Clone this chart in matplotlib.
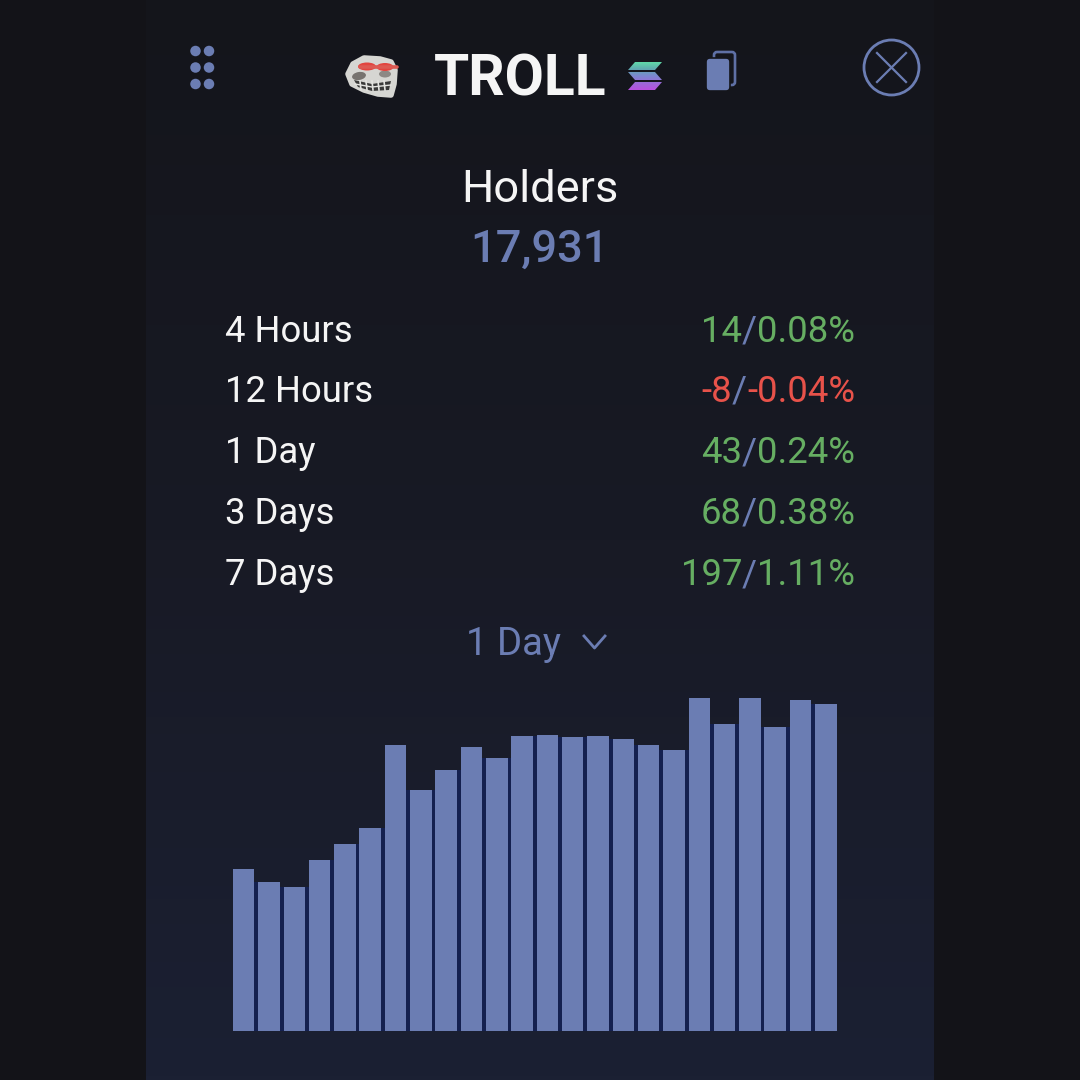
import numpy as np
import matplotlib
matplotlib.use("Agg")
import matplotlib.pyplot as plt
from matplotlib.patches import Ellipse, Polygon, FancyBboxPatch, PathPatch
from matplotlib.path import Path
from matplotlib.colors import LinearSegmentedColormap

token = "TROLL"
metric = "Holders"
metric_total = "17,931"
periods = ["4 Hours", "12 Hours", "1 Day", "3 Days", "7 Days"]
changes = ["14", "-8", "43", "68", "197"]
percents = ["0.08%", "-0.04%", "0.24%", "0.38%", "1.11%"]
selected = "1 Day"
bar_values = [162, 149, 144, 171, 187, 203, 286, 241, 261, 284, 273, 295,
              296, 294, 295, 292, 286, 281, 333, 307, 333, 304, 331, 327]

OUTER = "#131318"
BLUE = "#6b7db3"
NAVY = "#14204f"
GREEN = "#66ae62"
RED = "#e8524a"
WHITE = "#f5f5f5"
plt.rcParams["font.family"] = ["Roboto", "DejaVu Sans"]

fig = plt.figure(figsize=(10.8, 10.8), dpi=100, facecolor=OUTER)

# pixel-space overlay
ov = fig.add_axes([0, 0, 1, 1], zorder=1)
ov.axis("off")

panel_cmap = LinearSegmentedColormap.from_list("panel", ["#14151b", "#181a25", "#1b2033"])
ov.imshow(np.linspace(0, 1, 256).reshape(-1, 1), extent=(146, 934, 1080, 0), cmap=panel_cmap,
          aspect="auto", zorder=0)

# grip dots
for cx in (195.5, 209):
    for cy in (51, 67.5, 84):
        ov.add_patch(Ellipse((cx, cy), 10.5, 10.5, fc=BLUE, ec="none"))

# meme face icon
ov.add_patch(Polygon([(348, 74), (353, 64), (364, 58), (380, 59), (391, 62), (395, 70), (394, 84), (391, 95),
                      (378, 94), (364, 90), (352, 84)], closed=True, fc="#d6d6d2", ec="#d6d6d2",
                     lw=4, joinstyle="round"))
ov.add_patch(Ellipse((359, 76), 14, 8, angle=-10, fc="#77736f", ec="none"))
ov.add_patch(Ellipse((385, 74), 12, 7, fc="#8d8985", ec="none"))
ov.plot([360, 397], [67, 67], color="#dd5a52", lw=2.6, solid_capstyle="round")
ov.add_patch(Ellipse((367, 66.5), 18, 8, fc="#e2453f", ec="none"))
ov.add_patch(Ellipse((385, 67), 17, 8, fc="#e2453f", ec="none"))
ov.add_patch(Polygon([(354, 80), (372, 84), (391, 81), (389, 90), (372, 91), (358, 87)], closed=True,
                     fc="#3a3a39", ec="none"))
for x in range(360, 390, 6):
    ov.plot([x, x + 1], [81, 90], color="#e4e4e0", lw=1.2)
ov.plot([355, 372, 391], [84, 87, 85], color="#e4e4e0", lw=1)

# title
ov.text(520.5, 73.5, token, color=WHITE, fontsize=41, fontweight="bold", ha="center", va="center_baseline")

# tri-bar chain logo
sol = LinearSegmentedColormap.from_list("sol", ["#5fd8a8", "#5fa8b0", "#7d86d0", "#9a6ad8", "#b84fe0"])
grad = ov.imshow(np.linspace(0, 1, 64).reshape(-1, 1), extent=(628, 662, 90, 62), cmap=sol, aspect="auto", zorder=3)
clip_xy = [(635, 62), (662, 62), (655, 70), (628, 70), (635, 62),
           (628, 72), (655, 72), (662, 80), (635, 80), (628, 72),
           (635, 82), (662, 82), (655, 90), (628, 90), (635, 82)]
clip_patch = PathPatch(Path(clip_xy, [1, 2, 2, 2, 79] * 3), transform=ov.transData, fc="none", ec="none")
ov.add_patch(clip_patch)
grad.set_clip_path(clip_patch)

# copy icon
ov.add_patch(FancyBboxPatch((714, 52), 21, 33, boxstyle="round,pad=0,rounding_size=3", fc="none", ec="#5f70a5", lw=1.9))
ov.add_patch(FancyBboxPatch((706, 58), 24, 33, boxstyle="round,pad=0,rounding_size=4", fc=BLUE, ec="#14151b", lw=1.2, zorder=3))

# close icon
ov.add_patch(Ellipse((891.5, 67.5), 55, 55, fc="none", ec=BLUE, lw=2))
ov.plot([877, 906], [53, 82], color=BLUE, lw=1.6)
ov.plot([906, 877], [53, 82], color=BLUE, lw=1.6)

# header
ov.text(540, 185, metric, color=WHITE, fontsize=32.6, ha="center", va="center_baseline")
ov.text(539, 245.5, metric_total, color=BLUE, fontsize=32.6, fontweight="medium", ha="center", va="center_baseline")

ov.set_xlim(0, 1080)
ov.set_ylim(1080, 0)

# rows
row_y = [328, 388, 449, 510, 571]
renderer = fig.canvas.get_renderer()
for y, p, c, q in zip(row_y, periods, changes, percents):
    ov.text(225, y, p, color=WHITE, fontsize=26.3, ha="left", va="center_baseline")
    col = RED if c.startswith("-") else GREEN
    t3 = ov.text(855, y, q, color=col, fontsize=26.3, ha="right", va="center_baseline")
    x = ov.transData.inverted().transform((t3.get_window_extent(renderer).x0, 0))[0]
    t2 = ov.text(x, y, "/", color=BLUE, fontsize=26.3, ha="right", va="center_baseline")
    x = ov.transData.inverted().transform((t2.get_window_extent(renderer).x0, 0))[0]
    ov.text(x, y, c, color=col, fontsize=26.3, ha="right", va="center_baseline")

# selector
ov.text(514.0, 640.5, selected, color=BLUE, fontsize=27.5, ha="center", va="center_baseline")
ov.plot([584, 594.5, 605], [636, 648, 636], color=BLUE, lw=2)

# bar chart
ax = fig.add_axes([231.0 / 1080, (1080 - 1031) / 1080, (838.5 - 231.0) / 1080, 340.5 / 1080], zorder=2)
ax.patch.set_alpha(0)
ax.axis("off")
ax.set_xlim(-0.5, len(bar_values) - 0.5)
ax.set_ylim(0, 340)
xs = np.arange(len(bar_values))
vals = np.array(bar_values)
ax.bar(xs[:-1] + 0.5, np.minimum(vals[:-1], vals[1:]), width=0.24, color=NAVY, linewidth=0)
ax.bar(xs, vals, width=0.85, color=BLUE, linewidth=0)

fig.savefig("out.png", dpi=100, facecolor=OUTER)
